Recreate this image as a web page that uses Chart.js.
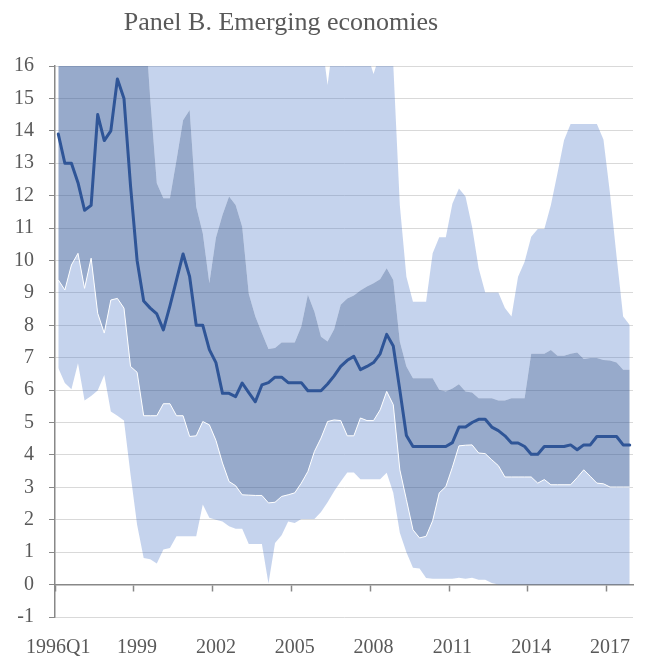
<!DOCTYPE html>
<html><head><meta charset="utf-8">
<script src="https://cdn.jsdelivr.net/npm/chart.js@4.4.1/dist/chart.umd.min.js"></script>
<style>
html,body{margin:0;padding:0;background:#fff;}
#wrap{position:relative;width:652px;height:659px;overflow:hidden;}
#title{position:absolute;left:0;top:6px;width:562px;text-align:center;font-family:"Liberation Serif",serif;font-size:26px;line-height:32px;color:#595959;white-space:nowrap;}
canvas{position:absolute;left:0;top:0;}
</style></head><body>
<div id="wrap"><canvas id="c" width="652" height="659"></canvas><div id="title">Panel B. Emerging economies</div></div>
<script>
const quarters = [
'1996Q1','1996Q2','1996Q3','1996Q4','1997Q1','1997Q2','1997Q3','1997Q4','1998Q1','1998Q2','1998Q3','1998Q4',
'1999Q1','1999Q2','1999Q3','1999Q4','2000Q1','2000Q2','2000Q3','2000Q4','2001Q1','2001Q2','2001Q3','2001Q4',
'2002Q1','2002Q2','2002Q3','2002Q4','2003Q1','2003Q2','2003Q3','2003Q4','2004Q1','2004Q2','2004Q3','2004Q4',
'2005Q1','2005Q2','2005Q3','2005Q4','2006Q1','2006Q2','2006Q3','2006Q4','2007Q1','2007Q2','2007Q3','2007Q4',
'2008Q1','2008Q2','2008Q3','2008Q4','2009Q1','2009Q2','2009Q3','2009Q4','2010Q1','2010Q2','2010Q3','2010Q4',
'2011Q1','2011Q2','2011Q3','2011Q4','2012Q1','2012Q2','2012Q3','2012Q4','2013Q1','2013Q2','2013Q3','2013Q4',
'2014Q1','2014Q2','2014Q3','2014Q4','2015Q1','2015Q2','2015Q3','2015Q4','2016Q1','2016Q2','2016Q3','2016Q4',
'2017Q1','2017Q2','2017Q3','2017Q4'];

const xTickLabels = ['1996Q1','1999','2002','2005','2008','2011','2014','2017'];
// category boundaries (in category-index units) where the axis carries a tick mark
const xTickMarks = [-0.5, 11.5, 23.5, 35.5, 47.5, 59.5, 71.5, 83.5];

const minimum = [
6.68,6.22,6.03,6.83,5.68,5.82,5.99,6.47,5.34,5.21,5.06,3.4,
1.85,0.82,0.78,0.65,1.08,1.13,1.49,1.49,1.49,1.49,2.47,2.06,
2.0,1.95,1.8,1.72,1.72,1.25,1.25,1.25,0.03,1.28,1.52,1.95,
1.9,2.02,2.02,2.02,2.24,2.54,2.88,3.18,3.46,3.46,3.25,3.25,
3.25,3.25,3.45,2.83,1.6,1.0,0.52,0.5,0.2,0.18,0.18,0.18,
0.18,0.21,0.18,0.21,0.15,0.15,0.05,0,0,0,0,0,
0,0,0,0,0,0,0,0,0,0,0,0,
0,0,0,0];

const p25 = [
9.4,9.09,9.86,10.22,9.14,10.07,8.37,7.76,8.78,8.83,8.53,6.73,
6.55,5.21,5.21,5.21,5.58,5.58,5.21,5.21,4.57,4.59,5.03,4.93,
4.45,3.75,3.18,3.05,2.77,2.76,2.75,2.75,2.52,2.54,2.72,2.77,
2.83,3.13,3.49,4.11,4.52,5.03,5.08,5.06,4.59,4.59,5.14,5.06,
5.06,5.39,5.96,5.55,3.54,2.62,1.69,1.44,1.49,1.97,2.83,3.02,
3.62,4.28,4.3,4.31,4.06,4.04,3.85,3.67,3.32,3.32,3.32,3.32,
3.32,3.13,3.24,3.08,3.08,3.08,3.08,3.3,3.54,3.34,3.13,3.11,
3.01,3.01,3.01,3.01];

const median = [
13.9,13.0,13.0,12.4,11.55,11.7,14.5,13.7,14.0,15.6,15.0,12.3,
10.0,8.75,8.53,8.35,7.86,8.6,9.4,10.2,9.5,8.0,8.0,7.25,
6.85,5.9,5.9,5.8,6.22,5.92,5.64,6.16,6.23,6.4,6.4,6.23,
6.23,6.23,5.98,5.98,5.98,6.19,6.44,6.73,6.92,7.04,6.63,6.73,
6.85,7.12,7.72,7.36,6.0,4.6,4.26,4.26,4.26,4.26,4.26,4.26,
4.38,4.86,4.86,5.0,5.1,5.1,4.86,4.75,4.59,4.37,4.37,4.26,
4.02,4.02,4.26,4.26,4.26,4.26,4.31,4.16,4.31,4.31,4.57,4.57,
4.57,4.57,4.31,4.31];

const p75 = [
17,17,17,17,17,17,17,17,17,17,17,17,
17,18,15.0,12.38,11.92,11.92,13.1,14.33,14.64,11.66,10.84,9.3,
10.7,11.4,11.97,11.71,11.04,8.97,8.27,7.76,7.27,7.3,7.47,7.47,
7.47,7.96,8.94,8.42,7.65,7.5,7.88,8.63,8.83,8.92,9.07,9.2,
9.3,9.42,9.76,9.4,7.5,6.73,6.37,6.37,6.37,6.37,6.01,5.96,
6.05,6.18,5.96,5.93,5.75,5.75,5.75,5.68,5.68,5.75,5.75,5.75,
7.12,7.12,7.12,7.24,7.06,7.06,7.12,7.16,6.96,6.99,6.99,6.93,
6.91,6.85,6.63,6.63];

const maximum = [
18,18,18,18,18,18,18,18,18,18,18,18,
18,18,18,18,18,18,18,18,18,18,18,18,
18,18,18,18,18,18,18,18,18,18,18,18,
18,18,18,18,17,15.41,17,18,18,18,18,16.4,
15.75,16.4,17,16.05,11.7,9.5,8.73,8.73,8.73,10.22,10.72,10.72,
11.75,12.22,11.97,11.04,9.76,9.01,9.01,9.01,8.53,8.27,9.5,9.96,
10.73,10.97,10.97,11.71,12.69,13.71,14.21,14.21,14.21,14.21,14.21,13.73,
12.07,10.12,8.27,8.01];

const LIGHT = 'rgba(68,114,196,0.31)';
const DARK = 'rgba(47,85,151,0.5)';
const LINE = '#2F5597';
const AXIS = '#888888';
const GRID = '#D9D9D9';
const TXT = '#595959';
const FONT = {family: 'Liberation Serif', size: 20};
const NONE = 'rgba(0,0,0,0)';

new Chart(document.getElementById('c'), {
  type: 'line',
  data: {
    labels: quarters,
    datasets: [
      {label: 'Minimum', data: minimum, borderColor: NONE, borderWidth: 0, pointRadius: 0, fill: false, order: 1},
      {label: '25th percentile', data: p25, borderColor: '#ffffff', borderWidth: 1, backgroundColor: LIGHT, fill: '-1', pointRadius: 0, order: 2},
      {label: '75th percentile', data: p75, borderColor: NONE, borderWidth: 0, backgroundColor: DARK, fill: '-1', pointRadius: 0, order: 3},
      {label: 'Maximum', data: maximum, borderColor: NONE, borderWidth: 0, backgroundColor: LIGHT, fill: '-1', pointRadius: 0, order: 4},
      {label: 'Median', data: median, borderColor: LINE, borderWidth: 3, fill: false, pointRadius: 0, order: 0,
       borderJoinStyle: 'round', borderCapStyle: 'round'}
    ]
  },
  options: {
    responsive: false,
    animation: false,
    events: [],
    layout: {padding: {left: 0, right: 19, top: 66, bottom: 0}},
    plugins: {legend: {display: false}, tooltip: {enabled: false}, title: {display: false}},
    scales: {
      x: {
        type: 'category', position: 'bottom', offset: true,
        grid: {display: false, drawTicks: false},
        border: {display: false},
        ticks: {autoSkip: false, maxRotation: 0, minRotation: 0, padding: 19, color: TXT, font: FONT,
          callback: (v, i) => (i % 12 === 0 ? xTickLabels[i / 12] : '')},
        afterFit: s => { s.height = 42; }
      },
      x2: {
        type: 'linear', position: {y: 0}, display: true,
        min: -0.5, max: quarters.length - 0.5,
        afterBuildTicks: s => { s.ticks = xTickMarks.map(v => ({value: v})); },
        grid: {display: true, color: NONE, drawOnChartArea: false, drawTicks: true, tickLength: 6, tickWidth: 1.5, tickColor: AXIS},
        border: {display: true, color: AXIS, width: 1.5},
        ticks: {display: false, autoSkip: false}
      },
      y: {
        min: -1, max: 16,
        ticks: {stepSize: 1, padding: 15, color: TXT, font: FONT},
        grid: {color: c => (c.tick && c.tick.value === 0 ? AXIS : GRID), lineWidth: 1, tickColor: AXIS, tickLength: 6},
        border: {display: true, color: AXIS, width: 1.5},
        afterFit: s => { s.width = 55; }
      }
    }
  }
});
</script>
</body></html>
